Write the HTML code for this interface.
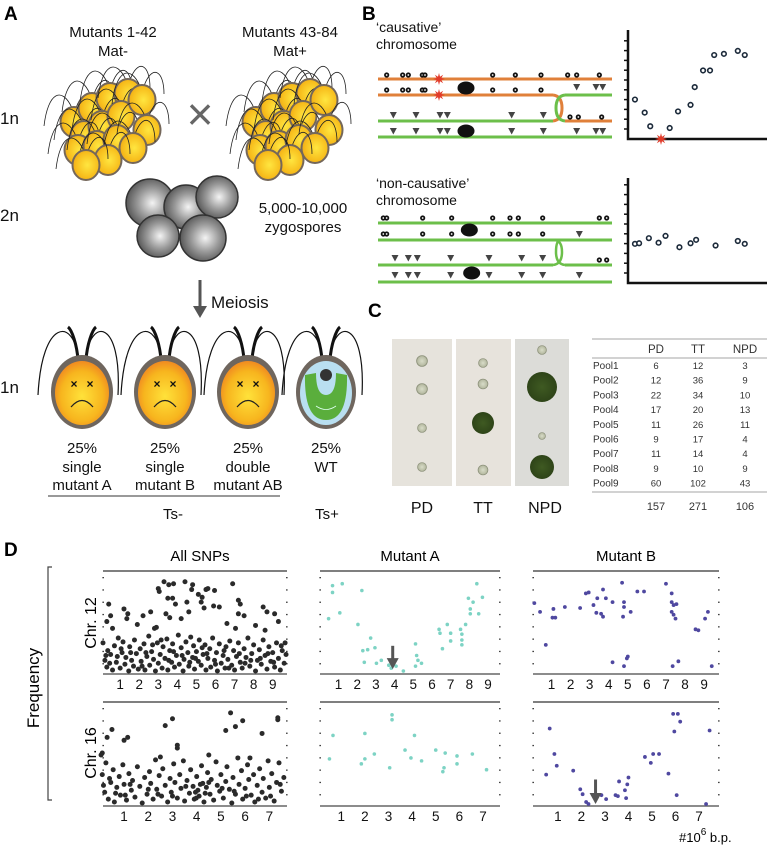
<!DOCTYPE html>
<html><head><meta charset="utf-8">
<style>
html,body{margin:0;padding:0;background:#fff;}
svg{display:block;font-family:"Liberation Sans",sans-serif;}
</style></head>
<body>
<svg id="fig" width="767" height="846" viewBox="0 0 767 846" xmlns="http://www.w3.org/2000/svg">
<defs>
<radialGradient id="yel" cx="0.55" cy="0.5" r="0.6"><stop offset="0" stop-color="#ffe640"/><stop offset="0.7" stop-color="#f7bd1c"/><stop offset="1" stop-color="#eda31a"/></radialGradient>
<radialGradient id="sad" cx="0.5" cy="0.55" r="0.6"><stop offset="0" stop-color="#ffe23a"/><stop offset="0.65" stop-color="#f7b51e"/><stop offset="1" stop-color="#ee7d22"/></radialGradient>
<radialGradient id="gry" cx="0.55" cy="0.5" r="0.6"><stop offset="0" stop-color="#f4f4f4"/><stop offset="0.5" stop-color="#9a9a9a"/><stop offset="1" stop-color="#4a4a4a"/></radialGradient>
<radialGradient id="col" cx="0.5" cy="0.5" r="0.5"><stop offset="0" stop-color="#3f5a22"/><stop offset="1" stop-color="#2e4418"/></radialGradient>
<radialGradient id="pale" cx="0.5" cy="0.5" r="0.5"><stop offset="0" stop-color="#d8dcc8"/><stop offset="0.8" stop-color="#b9bda5"/><stop offset="1" stop-color="#8d927a"/></radialGradient>
</defs>

<text x="4" y="20" font-size="19" font-weight="bold">A</text>
<text x="362" y="20" font-size="19" font-weight="bold">B</text>
<text x="368" y="317" font-size="19" font-weight="bold">C</text>
<text x="4" y="556" font-size="19" font-weight="bold">D</text>

<g id="panelA" font-size="15" fill="#111">
<text x="113" y="37" text-anchor="middle">Mutants 1-42</text>
<text x="113" y="56" text-anchor="middle">Mat-</text>
<text x="290" y="37" text-anchor="middle">Mutants 43-84</text>
<text x="290" y="56" text-anchor="middle">Mat+</text>
<text x="0" y="124" font-size="17">1n</text>
<text x="0" y="221" font-size="17">2n</text>
<text x="0" y="393" font-size="17">1n</text>
<text x="200" y="130" font-size="46" text-anchor="middle" fill="#666">×</text>
<g id="clusters"></g>
<g id="zygos"></g>
<text x="303" y="213" text-anchor="middle">5,000-10,000</text>
<text x="303" y="232" text-anchor="middle">zygospores</text>
<g><line x1="200" y1="280" x2="200" y2="308" stroke="#555" stroke-width="3"/><polygon points="193,306 207,306 200,318" fill="#555"/></g>
<text x="211" y="308" font-size="17">Meiosis</text>
<g id="progeny"></g>
<line x1="48" y1="496" x2="280" y2="496" stroke="#333" stroke-width="1"/>
<text x="173" y="519" text-anchor="middle">Ts-</text>
<text x="327" y="519" text-anchor="middle">Ts+</text>
</g>

<g id="panelB" font-size="14" fill="#111">
<text x="376" y="32">‘causative’</text>
<text x="376" y="49">chromosome</text>
<text x="376" y="188">‘non-causative’</text>
<text x="376" y="205">chromosome</text>
<g id="chroms"></g>
<g id="bgraphs"></g>
</g>

<g id="panelC">
<g id="photos"></g>
<g id="table" font-size="9.5" fill="#333"></g>
</g>

<g id="panelD">
<text x="200" y="561" font-size="15" text-anchor="middle">All SNPs</text>
<text x="410" y="561" font-size="15" text-anchor="middle">Mutant A</text>
<text x="626" y="561" font-size="15" text-anchor="middle">Mutant B</text>
<path d="M52,567 L48,567 L48,800 L52,800" fill="none" stroke="#444" stroke-width="1.2"/>
<text transform="translate(39,688) rotate(-90)" font-size="17" text-anchor="middle">Frequency</text>
<text transform="translate(96,623) rotate(-90)" font-size="16" text-anchor="middle">Chr. 12</text>
<text transform="translate(96,753) rotate(-90)" font-size="16" text-anchor="middle">Chr. 16</text>
<text x="679" y="842" font-size="13">#10<tspan dy="-7" font-size="10">6</tspan><tspan dy="7"> b.p.</tspan></text>
<g id="plots"></g>
</g>
</svg>

<script>
const allChr12 = [[.4,.7],[.5,.58],[.3,.52],[1.2,.65],[1.4,.6],[1.35,.55],[1.9,.49],[2.2,.58],[2.6,.62],[2.8,.45],[3.0,.86],[3.05,.83],[3.3,.93],[3.55,.9],[3.8,.91],[3.5,.76],[3.75,.76],[3.4,.6],[3.6,.56],[3.9,.7],[4.4,.93],[4.5,.72],[4.8,.9],[4.75,.85],[4.6,.62],[5.1,.8],[5.3,.77],[5.25,.72],[5.5,.85],[5.6,.86],[5.4,.66],[5.95,.84],[5.9,.68],[6.2,.67],[6.9,.91],[7.2,.74],[7.3,.7],[7.2,.6],[7.5,.58],[7.05,.45],[8.5,.67],[8.7,.62],[9.1,.6],[8.6,.43],[9.3,.52],[.6,.45],[2.9,.46],[4.2,.55],[6.6,.5],[8.1,.48],
[.1,.3],[.2,.12],[.3,.05],[.35,.22],[.5,.18],[.6,.02],[.7,.27],[.8,.1],[.9,.35],[1.0,.04],[1.1,.2],[1.15,.31],[1.25,.08],[1.3,.15],[1.45,.01],[1.5,.26],[1.6,.12],[1.7,.06],[1.75,.33],[1.85,.19],[1.95,.03],[2.05,.24],[2.1,.11],[2.25,.29],[2.3,.02],[2.4,.16],[2.5,.37],[2.55,.07],[2.65,.21],[2.75,.13],[2.85,.01],[2.95,.3],[3.0,.09],[3.1,.18],[3.2,.04],[3.25,.26],[3.35,.14],[3.45,.34],[3.5,.02],[3.6,.22],[3.7,.1],[3.75,.29],[3.85,.05],[3.95,.17],[4.05,.38],[4.1,.08],[4.2,.25],[4.3,.01],[4.35,.13],[4.45,.31],[4.55,.2],[4.6,.06],[4.7,.36],[4.8,.15],[4.85,.27],[4.9,.03],[5.0,.21],[5.1,.11],[5.15,.33],[5.25,.07],[5.35,.18],[5.45,.28],[5.5,.02],[5.6,.14],[5.7,.24],[5.75,.05],[5.85,.35],[5.95,.12],[6.05,.2],[6.1,.01],[6.2,.29],[6.3,.09],[6.4,.17],[6.5,.04],[6.55,.26],[6.65,.13],[6.75,.32],[6.85,.07],[6.95,.22],[7.0,.02],[7.1,.16],[7.2,.3],[7.3,.1],[7.4,.04],[7.5,.24],[7.6,.15],[7.7,.35],[7.8,.06],[7.9,.19],[8.0,.28],[8.1,.01],[8.2,.12],[8.3,.23],[8.4,.08],[8.5,.33],[8.6,.17],[8.7,.03],[8.8,.26],[8.9,.11],[9.0,.2],[9.1,.05],[9.2,.3],[9.3,.14],[9.4,.02],[9.5,.22],[9.6,.09],[9.7,.18],[.45,.09],[1.55,.2],[2.7,.28],[3.8,.21],[4.95,.14],[6.0,.08],[7.25,.19],[8.35,.14],[9.45,.27],[.85,.16],[2.15,.06],[3.55,.12],[4.65,.1],[5.55,.19],[6.7,.04],[7.85,.12],[9.05,.1],[.25,.17],[1.05,.24],[2.35,.2],[3.15,.33],[4.25,.17],[5.3,.25],[6.45,.22],[7.55,.09],[8.75,.19],[9.65,.3]];
const allChr16 = [[.1,.52],[.5,.76],[.3,.68],[1.0,.65],[1.15,.68],[2.7,.8],[3.0,.87],[3.2,.57],[3.2,.6],[5.2,.75],[5.4,.93],[5.6,.79],[5.9,.85],[6.7,.72],[7.35,.86],[7.35,.88],[.05,.5],[2.5,.48],[4.5,.5],[6.2,.47],
[.1,.3],[.2,.12],[.25,.42],[.35,.05],[.45,.22],[.55,.35],[.6,.02],[.7,.17],[.8,.28],[.85,.09],[.95,.4],[1.0,.2],[1.1,.04],[1.2,.31],[1.3,.14],[1.35,.24],[1.45,.07],[1.55,.38],[1.65,.18],[1.75,.01],[1.85,.27],[1.95,.1],[2.05,.33],[2.1,.21],[2.2,.05],[2.3,.45],[2.35,.15],[2.45,.29],[2.55,.08],[2.6,.36],[2.7,.19],[2.8,.02],[2.9,.26],[2.95,.12],[3.05,.41],[3.1,.22],[3.2,.06],[3.3,.3],[3.35,.16],[3.45,.44],[3.5,.03],[3.6,.24],[3.7,.11],[3.75,.35],[3.85,.18],[3.9,.05],[4.0,.28],[4.05,.14],[4.1,.08],[4.2,.39],[4.25,.21],[4.3,.02],[4.4,.17],[4.45,.32],[4.55,.1],[4.6,.25],[4.7,.04],[4.8,.43],[4.85,.19],[4.95,.13],[5.0,.3],[5.1,.06],[5.2,.23],[5.25,.38],[5.35,.15],[5.45,.01],[5.5,.27],[5.6,.1],[5.7,.47],[5.75,.2],[5.85,.34],[5.9,.05],[6.0,.16],[6.1,.4],[6.15,.25],[6.25,.09],[6.35,.3],[6.4,.02],[6.5,.19],[6.6,.36],[6.7,.12],[6.75,.26],[6.85,.06],[6.95,.44],[7.0,.17],[7.1,.31],[7.2,.03],[7.3,.22],[7.4,.42],[7.5,.13],[7.6,.27],[.15,.19],[1.05,.09],[2.0,.15],[3.0,.08],[3.95,.12],[4.15,.2],[5.05,.16],[6.05,.08],[7.05,.08],[4.35,.11],[.4,.26],[.65,.11],[1.25,.2],[2.4,.1],[3.55,.18],[3.98,.06],[4.5,.22],[5.55,.13],[6.55,.05],[7.45,.2]];
const mutAChr12 = [[.68,.89],[1.2,.91],[.68,.82],[2.25,.84],[.47,.55],[1.07,.61],[2.04,.49],[2.72,.35],[2.3,.22],[2.56,.23],[2.95,.25],[2.38,.1],[3.03,.09],[3.29,.12],[3.69,.07],[3.82,.04],[4.08,.06],[4.47,.01],[5.12,.29],[5.18,.17],[5.25,.12],[5.12,.06],[5.44,.09],[6.38,.44],[6.43,.4],[6.56,.24],[6.82,.49],[7.0,.4],[7.0,.32],[7.53,.44],[7.6,.39],[7.6,.33],[7.6,.28],[7.8,.49],[7.95,.76],[8.05,.65],[8.05,.6],[8.2,.72],[8.4,.91],[8.5,.6],[8.7,.77]];
const mutAChr16 = [[.65,.7],[.5,.46],[2.0,.72],[1.85,.41],[2.0,.46],[2.4,.51],[3.05,.37],[3.15,.91],[3.15,.86],[3.7,.55],[3.95,.47],[4.1,.7],[4.4,.44],[5.0,.55],[5.4,.52],[5.3,.33],[5.35,.37],[5.9,.49],[5.9,.41],[6.55,.51],[7.15,.35]];
const mutBChr12 = [[.1,.71],[.4,.62],[1.1,.65],[1.05,.56],[1.2,.56],[1.7,.67],[.7,.28],[2.5,.66],[2.8,.81],[2.95,.82],[3.2,.69],[3.35,.61],[3.4,.76],[3.6,.6],[3.7,.85],[3.7,.57],[3.85,.76],[4.2,.72],[4.2,.1],[4.7,.92],[4.8,.72],[4.8,.67],[4.75,.57],[5.15,.62],[5.0,.16],[4.95,.14],[4.8,.06],[5.5,.83],[5.85,.83],[7.0,.91],[7.3,.81],[7.3,.72],[7.4,.69],[7.55,.7],[7.3,.62],[7.4,.59],[7.5,.55],[7.35,.06],[7.65,.11],[8.55,.44],[8.7,.43],[9.2,.62],[9.05,.55],[9.4,.06]];
const mutBChr16 = [[.65,.77],[.85,.51],[.95,.39],[.5,.3],[1.65,.34],[1.95,.15],[2.05,.1],[2.2,.02],[2.3,0],[2.85,.09],[3.05,.05],[3.45,.09],[3.55,.08],[3.6,.23],[3.85,.14],[3.95,.2],[4.0,.27],[3.9,.06],[4.7,.48],[4.95,.42],[5.05,.51],[5.3,.51],[5.7,.31],[5.9,.92],[6.1,.92],[6.2,.84],[5.95,.74],[6.05,.09],[7.45,.75],[7.3,0]];
const ticksChr12 = [1,2,3,4,5,6,7,8,9];
const ticksChr16 = [1,2,3,4,5,6,7];
const arrowA = [3.9, 0.27, 0.03];
const arrowB = [2.6, 0.25, 0.0];

const causPosX = [0.05,0.12,0.16,0.30,0.36,0.45,0.48,0.54,0.59,0.62,0.69,0.79,0.84];
const causFreq = [0.53,0.31,0.08,0.05,0.33,0.44,0.74,1.02,1.02,1.28,1.30,1.35,1.28];
const nonPosX = [0.05,0.08,0.15,0.22,0.27,0.37,0.45,0.49,0.63,0.79,0.84];
const nonFreq = [0.55,0.56,0.65,0.57,0.69,0.49,0.56,0.62,0.52,0.60,0.55];

const poolNames = ["Pool1","Pool2","Pool3","Pool4","Pool5","Pool6","Pool7","Pool8","Pool9"];
const pdCounts = [6,12,22,17,11,9,11,9,60];
const ttCounts = [12,36,34,20,26,17,14,10,102];
const npdCounts = [3,9,10,13,11,4,4,9,43];
const totals = [157,271,106];

const NS="http://www.w3.org/2000/svg";
function mk(tag, attrs, parent){const e=document.createElementNS(NS,tag);for(const k in attrs)e.setAttribute(k,attrs[k]);parent.appendChild(e);return e;}

const clustersG=document.getElementById('clusters');
const cellPos=[[74,122],[92,108],[110,98],[128,94],[84,136],[102,126],[121,116],[78,150],[97,146],[117,140],[142,100],[147,130],[133,148],[108,160],[86,165]];
[0,182].forEach((off,ci)=>{
  const g=mk('g',{},clustersG);
  
  
  cellPos.forEach(([x,y])=>{
    const cx=x+off;
    mk('path',{d:`M${cx-2},${y-14} C${cx-12},${y-36} ${cx-26},${y-30} ${cx-30},${y+4}`,fill:'none',stroke:'#222','stroke-width':0.8},g);
    mk('path',{d:`M${cx+2},${y-14} C${cx+10},${y-36} ${cx+22},${y-30} ${cx+22},${y-6}`,fill:'none',stroke:'#222','stroke-width':0.8},g);
    mk('ellipse',{cx:cx,cy:y,rx:13.5,ry:15,fill:'url(#yel)',stroke:'#74675a','stroke-width':2},g);
  });
});
const zg=document.getElementById('zygos');
[[150,203,24],[186,207,22],[217,197,21],[158,236,21],[203,238,23]].forEach(([x,y,r])=>{
  mk('circle',{cx:x,cy:y,r:r,fill:'url(#gry)',stroke:'#333','stroke-width':1.5},zg);
});
const prog=document.getElementById('progeny');
const progX=[82,165,248,326];
const progL=[["single","mutant A"],["single","mutant B"],["double","mutant AB"],["WT",""]];
const progNames=['single-mutant-a-cell','single-mutant-b-cell','double-mutant-cell','wild-type-cell'];
progX.forEach((cx,i)=>{
  const g=mk('g',{},prog);
  
  
  mk('path',{d:`M${cx-4},${358} C${cx-8},${318} ${cx-40},${318} ${cx-44},${395}`,fill:'none',stroke:'#111','stroke-width':1.2},g);
  mk('path',{d:`M${cx+4},${358} C${cx+8},${318} ${cx+40},${318} ${cx+36},${395}`,fill:'none',stroke:'#111','stroke-width':1.2},g);
  mk('path',{d:`M${cx-4},${360} C${cx-5},${345} ${cx-10},${330} ${cx-14},${327}`,fill:'none',stroke:'#111','stroke-width':3},g);
  mk('path',{d:`M${cx+4},${360} C${cx+5},${345} ${cx+10},${330} ${cx+14},${327}`,fill:'none',stroke:'#111','stroke-width':3},g);
  if(i<3){
    mk('ellipse',{cx:cx,cy:392,rx:31,ry:37,fill:'#6f665e'},g);
    mk('ellipse',{cx:cx,cy:393,rx:27,ry:32,fill:'url(#sad)'},g);
    mk('text',{x:cx-8,y:388,'font-size':12,'font-weight':'bold','text-anchor':'middle',fill:'#111'},g).textContent='×';
    mk('text',{x:cx+8,y:388,'font-size':12,'font-weight':'bold','text-anchor':'middle',fill:'#111'},g).textContent='×';
    mk('path',{d:`M${cx-11},${407} Q${cx},${394} ${cx+11},${407}`,fill:'none',stroke:'#222','stroke-width':1.2},g);
  } else {
    mk('ellipse',{cx:cx,cy:392,rx:30,ry:37,fill:'#6f665e'},g);
    mk('ellipse',{cx:cx,cy:393,rx:26,ry:32,fill:'#b9dff0'},g);
    mk('path',{d:`M${cx-21},${375} Q${cx-22},${420} ${cx},${420} Q${cx+22},${420} ${cx+21},${375} L${cx+10},${373} Q${cx+10},${395} ${cx},${395} Q${cx-10},${395} ${cx-10},${373} Z`,fill:'#5aae3c'},g);
    mk('circle',{cx:cx,cy:375,r:6,fill:'#333'},g);
    mk('path',{d:`M${cx-10},${406} Q${cx},${413} ${cx+10},${406}`,fill:'none',stroke:'#dfe','stroke-width':0.8},g);
  }
  const t1=mk('text',{x:cx,y:453,'text-anchor':'middle'},g);t1.textContent='25%';
  const t2=mk('text',{x:cx,y:472,'text-anchor':'middle'},g);t2.textContent=progL[i][0];
  if(progL[i][1]){const t3=mk('text',{x:cx,y:490,'text-anchor':'middle'},g);t3.textContent=progL[i][1];}
});

const ch=document.getElementById('chroms');
const OR='#e0803a', GR='#6cbf4a';
function cline(x1,y,x2,c,name){const l=mk('line',{x1:x1,y1:y,x2:x2,y2:y,stroke:c,'stroke-width':3},ch);}
function circ(x,y){mk('circle',{cx:x,cy:y,r:2.6,fill:'#111'},ch);mk('circle',{cx:x,cy:y,r:0.9,fill:'#fff'},ch);}
function tri(x,y){mk('polygon',{points:`${x-3.5},${y-3} ${x+3.5},${y-3} ${x},${y+3.5}`,fill:'#444'},ch);}
function Z(zx){return 380+zx/3;}
cline(378,79,612,OR,'causative-chromatid-1');
cline(378,95,553,OR,'causative-chromatid-2');
cline(565,95,612,GR,'causative-chromatid-2-crossover');
cline(378,121,553,GR,'causative-chromatid-3');
cline(565,121,612,OR,'causative-chromatid-3-crossover');
cline(378,137,612,GR,'causative-chromatid-4');
mk('path',{d:'M553,95 Q562,96 562,108 Q562,120 553,121',fill:'none',stroke:OR,'stroke-width':3},ch);
mk('path',{d:'M565,95 Q556,96 556,108 Q556,120 565,121',fill:'none',stroke:GR,'stroke-width':3},ch);
[20,68,85,127,135,338,406,483,563,590,658].forEach(z=>circ(Z(z),75));
[20,68,85,127,135,338,406,483].forEach(z=>circ(Z(z),90));
[590,648,668].forEach(z=>tri(Z(z),87));
[40,108,180,202,395,490].forEach(z=>tri(Z(z),115));
[570,595,665].forEach(z=>circ(Z(z),117));
[40,108,180,202,395,490,590,648,668].forEach(z=>tri(Z(z),131));
mk('ellipse',{cx:Z(258),cy:88,rx:8.5,ry:6.5,fill:'#111'},ch);
mk('ellipse',{cx:Z(258),cy:131,rx:8.5,ry:6.5,fill:'#111'},ch);
function star(x,y){let p='';for(let k=0;k<16;k++){const r=k%2?2.5:6;const a=k*Math.PI/8;p+=(x+r*Math.cos(a)).toFixed(1)+','+(y+r*Math.sin(a)).toFixed(1)+' ';}const s=mk('polygon',{points:p,fill:'#e23b2a'},ch);return s;}
star(Z(177),79);star(Z(177),95);
cline(378,223,612,GR,'noncausative-chromatid-1');
cline(378,240,612,GR,'noncausative-chromatid-2');
cline(378,265,553,GR,'noncausative-chromatid-3');
cline(565,265,612,GR,'noncausative-chromatid-3b');
cline(378,282,612,GR,'noncausative-chromatid-4');
mk('path',{d:'M553,265 Q562,264 562,252 Q562,241 555,240 M565,265 Q556,264 556,252 Q556,241 560,240',fill:'none',stroke:GR,'stroke-width':2.5},ch);
[10,20,128,215,338,390,415,488,658,680].forEach(z=>circ(Z(z),218));
[10,20,128,215,338,390,415,488].forEach(z=>circ(Z(z),234));
tri(Z(598),234);
[45,85,112,212,327,425,488].forEach(z=>tri(Z(z),258));
[658,680].forEach(z=>circ(Z(z),260));
[45,85,112,212,327,425,488,598].forEach(z=>tri(Z(z),275));
mk('ellipse',{cx:Z(268),cy:230,rx:8.5,ry:6.5,fill:'#111'},ch);
mk('ellipse',{cx:Z(275),cy:273,rx:8.5,ry:6.5,fill:'#111'},ch);

const bg=document.getElementById('bgraphs');
function bgraph(top,bot,xs,ys,name,starIdx){
  const g=mk('g',{},bg);
  
  
  const X0=628,W=139,Hs=bot-top;
  mk('path',{d:`M${X0},${top} L${X0},${bot} L767,${bot}`,fill:'none',stroke:'#111','stroke-width':2.5},g);
  for(let t=bot-10;t>top+6;t-=9.8) mk('line',{x1:X0-4,y1:t,x2:X0,y2:t,stroke:'#111','stroke-width':1.5},g);
  const sx=v=>X0+v*W, sy=v=>bot-8-v*(Hs-20)/1.5;
  xs.forEach((v,i)=>{const c=mk('circle',{cx:sx(v),cy:sy(ys[i]),r:2.3,fill:'#fff',stroke:'#1c2a3a','stroke-width':1.6},g);});
  if(starIdx!==null){const s=star(661,bot);g.appendChild(s);}
}
bgraph(30,139,causPosX,causFreq,'causative-frequency-graph',0);
bgraph(178,283,nonPosX,nonFreq,'noncausative-frequency-graph',null);

const ph=document.getElementById('photos');
const strips=[[392,452,'#e6e3dc','pd-tetrad-photo'],[456,511,'#e7e3dc','tt-tetrad-photo'],[515,569,'#dcdcd8','npd-tetrad-photo']];
strips.forEach(s=>{const r=mk('rect',{x:s[0],y:339,width:s[1]-s[0],height:147,fill:s[2]},ph);});
const colonies=[[422,361,5.5,'pale'],[422,389,5.5,'pale'],[422,428,4.5,'pale'],[422,467,4.5,'pale'],
[483,363,4.5,'pale'],[483,384,5,'pale'],[483,423,11,'col'],[483,470,5,'pale'],
[542,350,4.5,'pale'],[542,387,15,'col'],[542,436,3.5,'pale'],[542,467,12,'col']];
colonies.forEach(c=>mk('circle',{cx:c[0],cy:c[1],r:c[2],fill:`url(#${c[3]})`,stroke:c[3]==='pale'?'#8a8f78':'none','stroke-width':0.6},ph));
[[422,'PD'],[483,'TT'],[545,'NPD']].forEach(([x,t])=>{const e=mk('text',{x:x,y:513,'font-size':16,'text-anchor':'middle',fill:'#111'},ph);e.textContent=t;});

const tb=document.getElementById('table');
const colX=[656,698,745];
mk('line',{x1:592,y1:339,x2:767,y2:339,stroke:'#888','stroke-width':0.8},tb);
mk('line',{x1:592,y1:358,x2:767,y2:358,stroke:'#888','stroke-width':0.8},tb);
mk('line',{x1:592,y1:492,x2:767,y2:492,stroke:'#888','stroke-width':0.8},tb);
["PD","TT","NPD"].forEach((h,i)=>{const e=mk('text',{x:colX[i],y:353,'font-size':11.5,'text-anchor':'middle'},tb);e.textContent=h;});
poolNames.forEach((p,r)=>{
  const y=369+r*14.7;
  const row=mk('g',{},tb);
  
  
  mk('text',{x:593,y:y,'font-size':10},row).textContent=p;
  [pdCounts[r],ttCounts[r],npdCounts[r]].forEach((v,i)=>{mk('text',{x:colX[i],y:y,'text-anchor':'middle'},row).textContent=v;});
});
totals.forEach((v,i)=>{const e=mk('text',{x:colX[i],y:510,'font-size':11,'text-anchor':'middle'},tb);e.textContent=v;});

const plotsG=document.getElementById('plots');
function scatter(opt){
  const {x0,x1,top,bot,dmin,dmax,data,ticks,color,r,name,labelY,arrow}=opt;
  const g=mk('g',{},plotsG);
  
  
  const sx=v=>x0+(v-dmin)/(dmax-dmin)*(x1-x0);
  const sy=v=>bot-2-v*(bot-top-6);
  mk('line',{x1:x0,y1:top,x2:x1,y2:top,stroke:'#555','stroke-width':1.6},g);
  mk('line',{x1:x0,y1:bot,x2:x1,y2:bot,stroke:'#666','stroke-width':1.6},g);
  for(let y=top+6;y<bot-2;y+=12.3){mk('rect',{x:x0-0.5,y:y,width:1.3,height:1.3,fill:'#111'},g);mk('rect',{x:x1-0.8,y:y,width:1.3,height:1.3,fill:'#111'},g);}
  data.forEach(([a,b])=>{const c=mk('circle',{cx:sx(a),cy:sy(b),r:r,fill:color},g);});
  ticks.forEach(t=>{const e=mk('text',{x:sx(t),y:labelY,'font-size':13.5,'text-anchor':'middle',fill:'#111'},g);e.textContent=t;});
  if(arrow){
    const ax=sx(arrow[0]);
    const a=mk('g',{},g);
    
    
    mk('line',{x1:ax,y1:sy(arrow[1]),x2:ax,y2:sy(arrow[2])-9,stroke:'#555','stroke-width':3},a);
    mk('polygon',{points:`${ax-6},${sy(arrow[2])-11} ${ax+6},${sy(arrow[2])-11} ${ax},${sy(arrow[2])}`,fill:'#555'},a);
  }
}
scatter({x0:103,x1:287,top:571,bot:674,dmin:0.1,dmax:9.75,data:allChr12,ticks:ticksChr12,color:'#2a2a2a',r:2.5,name:'all-snps-chr12-plot',labelY:689});
scatter({x0:320,x1:500,top:571,bot:674,dmin:0.01,dmax:9.64,data:mutAChr12,ticks:ticksChr12,color:'#7dd3c4',r:1.8,name:'mutant-a-chr12-plot',labelY:689,arrow:arrowA});
scatter({x0:533,x1:719,top:571,bot:674,dmin:0.03,dmax:9.78,data:mutBChr12,ticks:ticksChr12,color:'#4f48a0',r:1.9,name:'mutant-b-chr12-plot',labelY:689});
scatter({x0:103,x1:287,top:702,bot:806,dmin:0.13,dmax:7.73,data:allChr16,ticks:ticksChr16,color:'#2a2a2a',r:2.5,name:'all-snps-chr16-plot',labelY:821});
scatter({x0:320,x1:500,top:702,bot:806,dmin:0.1,dmax:7.72,data:mutAChr16,ticks:ticksChr16,color:'#7dd3c4',r:1.8,name:'mutant-a-chr16-plot',labelY:821});
scatter({x0:533,x1:719,top:702,bot:806,dmin:-0.06,dmax:7.85,data:mutBChr16,ticks:ticksChr16,color:'#4f48a0',r:1.9,name:'mutant-b-chr16-plot',labelY:821,arrow:arrowB});
</script>
</body></html>
